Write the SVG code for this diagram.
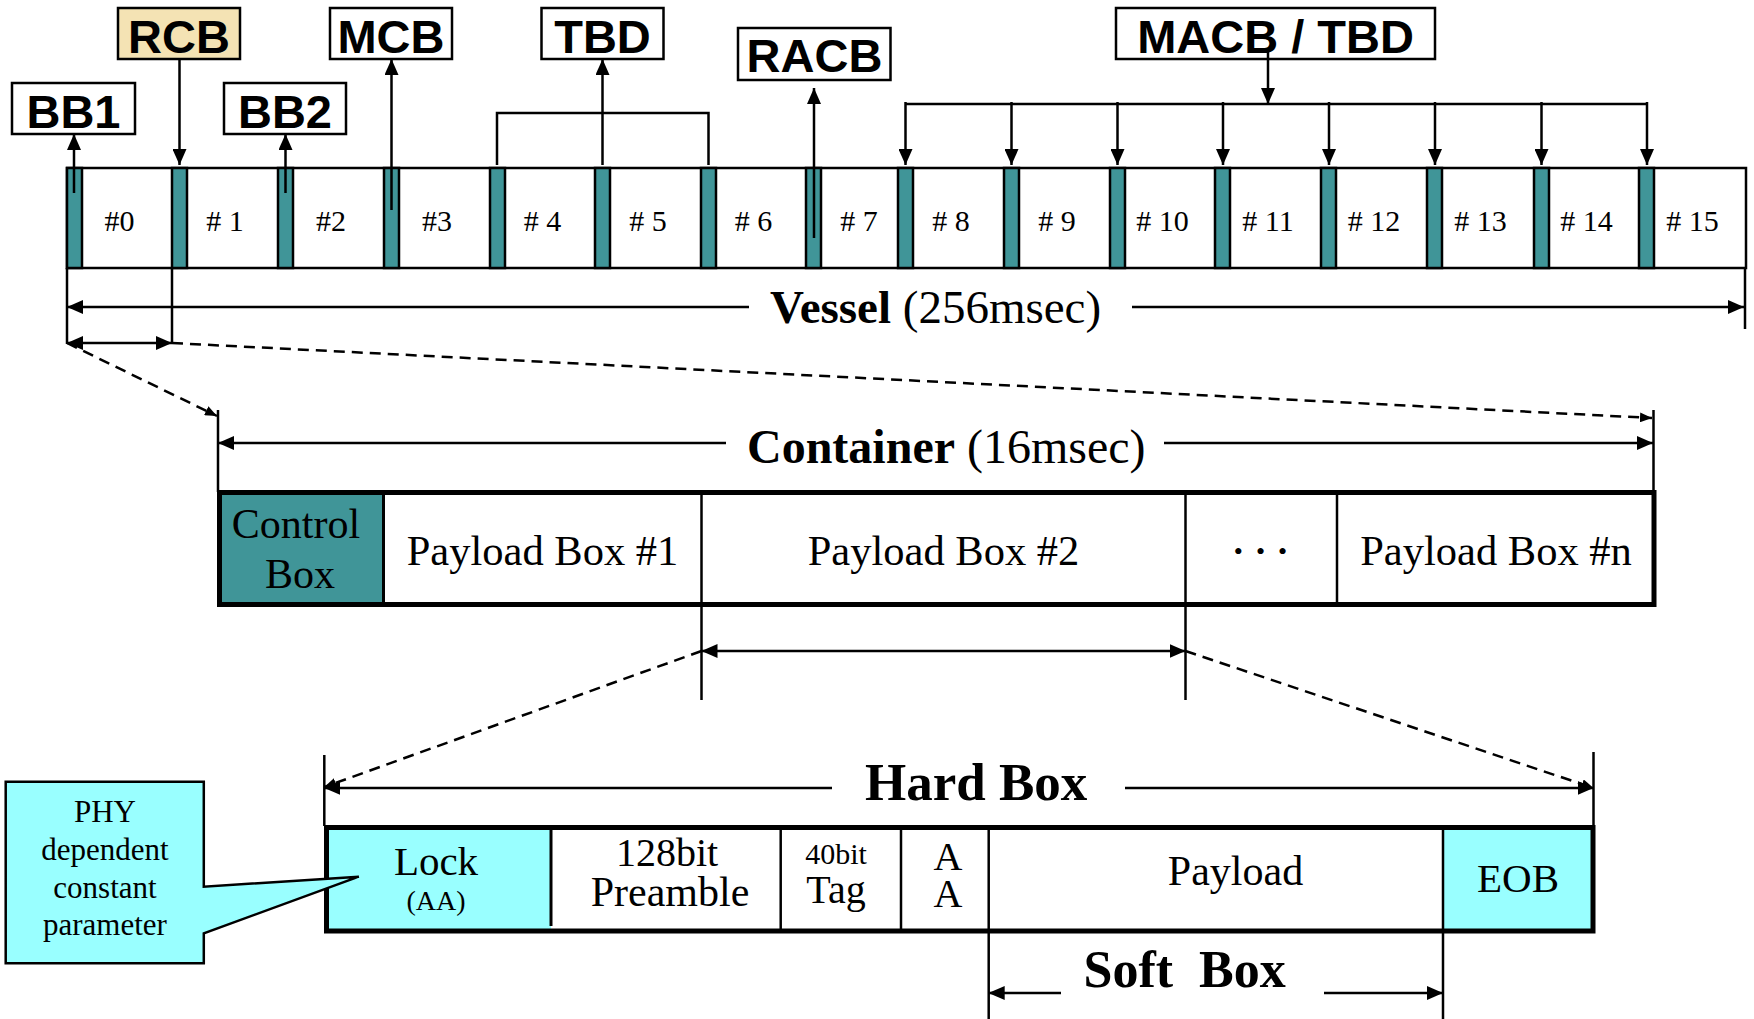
<svg xmlns="http://www.w3.org/2000/svg" width="1754" height="1019" viewBox="0 0 1754 1019">
<style>
.ln{stroke:#000;stroke-width:2.5;fill:none}
.dash{stroke:#000;stroke-width:2.5;fill:none;stroke-dasharray:11 7}
.lbl{font-family:"Liberation Sans",Arial,sans-serif;font-weight:bold;font-size:47px;text-anchor:middle}
.lbox{fill:#fff;stroke:#000;stroke-width:2.5}
.bar{fill:#409598;stroke:#000;stroke-width:2.5}
.cell{font-family:"Liberation Serif","Times New Roman",serif;font-size:30px;text-anchor:middle}
.ser{font-family:"Liberation Serif","Times New Roman",serif;text-anchor:middle}
.big{font-family:"Liberation Serif","Times New Roman",serif}
</style>
<defs>
<marker id="ah" viewBox="0 0 16 14" refX="16" refY="7" markerWidth="16" markerHeight="14" orient="auto-start-reverse" markerUnits="userSpaceOnUse"><path d="M0,0 L16,7 L0,14 z" fill="#000"/></marker>
<marker id="as" viewBox="0 0 12 10" refX="12" refY="5" markerWidth="12" markerHeight="10" orient="auto-start-reverse" markerUnits="userSpaceOnUse"><path d="M0,0 L12,5 L0,10 z" fill="#000"/></marker>
</defs>

<!-- Vessel -->
<g id="vessel">
<rect x="67" y="168" width="1679" height="100" fill="#fff" stroke="#000" stroke-width="2.5"/>
<rect class="bar" x="67" y="168" width="15" height="100"/>
<rect class="bar" x="172" y="168" width="15" height="100"/>
<rect class="bar" x="278" y="168" width="15" height="100"/>
<rect class="bar" x="384" y="168" width="15" height="100"/>
<rect class="bar" x="490" y="168" width="15" height="100"/>
<rect class="bar" x="595" y="168" width="15" height="100"/>
<rect class="bar" x="701" y="168" width="15" height="100"/>
<rect class="bar" x="806" y="168" width="15" height="100"/>
<rect class="bar" x="898" y="168" width="15" height="100"/>
<rect class="bar" x="1004" y="168" width="15" height="100"/>
<rect class="bar" x="1110" y="168" width="15" height="100"/>
<rect class="bar" x="1215" y="168" width="15" height="100"/>
<rect class="bar" x="1321" y="168" width="15" height="100"/>
<rect class="bar" x="1427" y="168" width="15" height="100"/>
<rect class="bar" x="1534" y="168" width="15" height="100"/>
<rect class="bar" x="1639" y="168" width="15" height="100"/>
<text class="cell" x="119.5" y="231">#0</text>
<text class="cell" x="225" y="231"># 1</text>
<text class="cell" x="331" y="231">#2</text>
<text class="cell" x="437" y="231">#3</text>
<text class="cell" x="542.5" y="231"># 4</text>
<text class="cell" x="648" y="231"># 5</text>
<text class="cell" x="753.5" y="231"># 6</text>
<text class="cell" x="859" y="231"># 7</text>
<text class="cell" x="951" y="231"># 8</text>
<text class="cell" x="1057" y="231"># 9</text>
<text class="cell" x="1162.5" y="231"># 10</text>
<text class="cell" x="1268" y="231"># 11</text>
<text class="cell" x="1374" y="231"># 12</text>
<text class="cell" x="1480.5" y="231"># 13</text>
<text class="cell" x="1586.5" y="231"># 14</text>
<text class="cell" x="1692.5" y="231"># 15</text>
</g>

<!-- Top labels -->
<g id="bb1"><rect class="lbox" x="12" y="83" width="123" height="51"/><text class="lbl" x="73.5" y="128">BB1</text></g>
<g id="rcb"><rect x="118" y="8" width="122" height="51" fill="#f4e3b4" stroke="#000" stroke-width="2.5"/><text class="lbl" x="179" y="52.5">RCB</text></g>
<g id="bb2"><rect class="lbox" x="224" y="83" width="122" height="51"/><text class="lbl" x="285" y="128">BB2</text></g>
<g id="mcb"><rect class="lbox" x="330" y="8" width="122" height="51"/><text class="lbl" x="391" y="52.5">MCB</text></g>
<g id="tbd"><rect class="lbox" x="541.5" y="8" width="122" height="51"/><text class="lbl" x="602.5" y="52.5">TBD</text></g>
<g id="racb"><rect class="lbox" x="738" y="28" width="152.5" height="52"/><text class="lbl" x="814.5" y="72">RACB</text></g>
<g id="macb"><rect class="lbox" x="1116" y="8" width="319" height="51"/><text class="lbl" x="1275.5" y="52.5">MACB / TBD</text></g>

<!-- Container -->
<g id="container">
<rect x="219.5" y="492.5" width="164" height="112" fill="#409598"/>
<rect x="219.5" y="492.5" width="1434.5" height="112" fill="none" stroke="#000" stroke-width="5"/>
<line x1="383.5" y1="492" x2="383.5" y2="605" stroke="#000" stroke-width="3"/>
<line x1="701.5" y1="492" x2="701.5" y2="605" stroke="#000" stroke-width="2.5"/>
<line x1="1185.5" y1="492" x2="1185.5" y2="605" stroke="#000" stroke-width="2.5"/>
<line x1="1337" y1="492" x2="1337" y2="605" stroke="#000" stroke-width="2.5"/>
<text class="ser" x="296" y="538" font-size="42">Control</text>
<text class="ser" x="300" y="588" font-size="42">Box</text>
<text class="ser" x="542.5" y="565" font-size="42.5">Payload Box #1</text>
<text class="ser" x="943.5" y="565" font-size="42.5">Payload Box #2</text>
<text class="ser" x="1267" y="560" font-size="26" letter-spacing="13">•••</text>
<text class="ser" x="1496" y="565" font-size="42.5">Payload Box #n</text>
</g>

<!-- Hard box -->
<g id="hardbox">
<rect x="326.5" y="827.5" width="224.5" height="103.5" fill="#99ffff"/>
<rect x="1443" y="827.5" width="150" height="103.5" fill="#99ffff"/>
<rect x="326.5" y="827.5" width="1266.5" height="103.5" fill="none" stroke="#000" stroke-width="5"/>
<line x1="551" y1="827" x2="551" y2="926" stroke="#000" stroke-width="3"/>
<line x1="780.7" y1="827" x2="780.7" y2="931" stroke="#000" stroke-width="2.5"/>
<line x1="901" y1="827" x2="901" y2="931" stroke="#000" stroke-width="2.5"/>
<line x1="988.7" y1="827" x2="988.7" y2="931" stroke="#000" stroke-width="2.5"/>
<line x1="1443" y1="827" x2="1443" y2="931" stroke="#000" stroke-width="2.5"/>
<text class="ser" x="436" y="875" font-size="41">Lock</text>
<text class="ser" x="436" y="910" font-size="28">(AA)</text>
<text class="ser" x="667" y="866" font-size="40">128bit</text>
<text class="ser" x="670" y="906" font-size="42">Preamble</text>
<text class="ser" x="836" y="864" font-size="30">40bit</text>
<text class="ser" x="836" y="903" font-size="40">Tag</text>
<text class="ser" x="948" y="870" font-size="40">A</text>
<text class="ser" x="948" y="906.5" font-size="40">A</text>
<text class="ser" x="1235.5" y="885" font-size="42">Payload</text>
<text class="ser" x="1518" y="891.5" font-size="41">EOB</text>
</g>

<!-- PHY callout -->
<g id="phy">
<path d="M5.7,781.7 H203.8 V886.7 L358.8,876.7 L203.8,933.3 V963.3 H5.7 Z" fill="#99ffff" stroke="#000" stroke-width="2.5"/>
<text class="ser" x="105" y="821.5" font-size="31">PHY</text>
<text class="ser" x="105" y="860" font-size="31">dependent</text>
<text class="ser" x="105" y="898" font-size="31">constant</text>
<text class="ser" x="105" y="935" font-size="31">parameter</text>
</g>

<!-- Connectors -->
<g id="connectors">
<line class="ln" x1="74" y1="193" x2="74" y2="134" marker-end="url(#ah)"/>
<line class="ln" x1="179.5" y1="59" x2="179.5" y2="165" marker-end="url(#ah)"/>
<line class="ln" x1="285.5" y1="193" x2="285.5" y2="134" marker-end="url(#ah)"/>
<line class="ln" x1="391.5" y1="210" x2="391.5" y2="59" marker-end="url(#ah)"/>
<polyline class="ln" points="497,165 497,113 708.5,113 708.5,165"/>
<line class="ln" x1="602.5" y1="165" x2="602.5" y2="59" marker-end="url(#ah)"/>
<line class="ln" x1="814" y1="238" x2="814" y2="88" marker-end="url(#ah)"/>
<line class="ln" x1="905.5" y1="104" x2="1647" y2="104"/>
<line class="ln" x1="1268" y1="50" x2="1268" y2="104" marker-end="url(#ah)"/>
<line class="ln" x1="905.5" y1="102" x2="905.5" y2="165" marker-end="url(#ah)"/>
<line class="ln" x1="1011.5" y1="102" x2="1011.5" y2="165" marker-end="url(#ah)"/>
<line class="ln" x1="1117.5" y1="102" x2="1117.5" y2="165" marker-end="url(#ah)"/>
<line class="ln" x1="1223" y1="102" x2="1223" y2="165" marker-end="url(#ah)"/>
<line class="ln" x1="1329" y1="102" x2="1329" y2="165" marker-end="url(#ah)"/>
<line class="ln" x1="1435" y1="102" x2="1435" y2="165" marker-end="url(#ah)"/>
<line class="ln" x1="1541.5" y1="102" x2="1541.5" y2="165" marker-end="url(#ah)"/>
<line class="ln" x1="1647" y1="102" x2="1647" y2="165" marker-end="url(#ah)"/>

<!-- vessel dimension -->
<line class="ln" x1="67" y1="268" x2="67" y2="344"/>
<line class="ln" x1="172" y1="268" x2="172" y2="344"/>
<line class="ln" x1="1745" y1="268" x2="1745" y2="329"/>
<line class="ln" x1="749" y1="307" x2="67" y2="307" marker-end="url(#ah)"/>
<line class="ln" x1="1132" y1="307" x2="1744" y2="307" marker-end="url(#ah)"/>
<text class="big" x="770" y="323" font-size="47"><tspan font-weight="bold">Vessel</tspan> (256msec)</text>

<!-- container dimension -->
<line class="ln" x1="67" y1="343" x2="172" y2="343" marker-start="url(#ah)" marker-end="url(#ah)"/>
<line class="dash" x1="67" y1="343" x2="217" y2="416" marker-end="url(#as)"/>
<line class="dash" x1="172" y1="343" x2="1652" y2="418" marker-end="url(#as)"/>
<line class="ln" x1="218" y1="410" x2="218" y2="492"/>
<line class="ln" x1="1653.5" y1="410" x2="1653.5" y2="490"/>
<line class="ln" x1="726" y1="443" x2="218" y2="443" marker-end="url(#ah)"/>
<line class="ln" x1="1164" y1="443" x2="1653" y2="443" marker-end="url(#ah)"/>
<text class="big" x="747" y="463" font-size="48"><tspan font-weight="bold">Container</tspan> (16msec)</text>

<!-- hard box dimension -->
<line class="ln" x1="701.5" y1="606" x2="701.5" y2="700"/>
<line class="ln" x1="1185.5" y1="606" x2="1185.5" y2="700"/>
<line class="ln" x1="701.5" y1="651" x2="1185.5" y2="651" marker-start="url(#ah)" marker-end="url(#ah)"/>
<line class="dash" x1="701.5" y1="651" x2="324.3" y2="787" marker-end="url(#as)"/>
<line class="dash" x1="1185.5" y1="651" x2="1593.5" y2="788" marker-end="url(#as)"/>
<line class="ln" x1="324.3" y1="755" x2="324.3" y2="826"/>
<line class="ln" x1="1593.5" y1="752" x2="1593.5" y2="826"/>
<line class="ln" x1="832" y1="788" x2="324.3" y2="788" marker-end="url(#ah)"/>
<line class="ln" x1="1125" y1="788" x2="1593.5" y2="788" marker-end="url(#ah)"/>
<text class="big" x="865" y="800" font-size="53" font-weight="bold">Hard Box</text>

<!-- soft box dimension -->
<line class="ln" x1="988.7" y1="931" x2="988.7" y2="1019"/>
<line class="ln" x1="1443" y1="931" x2="1443" y2="1019"/>
<line class="ln" x1="1061" y1="993" x2="988.7" y2="993" marker-end="url(#ah)"/>
<line class="ln" x1="1324" y1="993" x2="1443" y2="993" marker-end="url(#ah)"/>
<text class="big" x="1083.5" y="987" font-size="52" font-weight="bold" xml:space="preserve">Soft  Box</text>
</g>
</svg>
